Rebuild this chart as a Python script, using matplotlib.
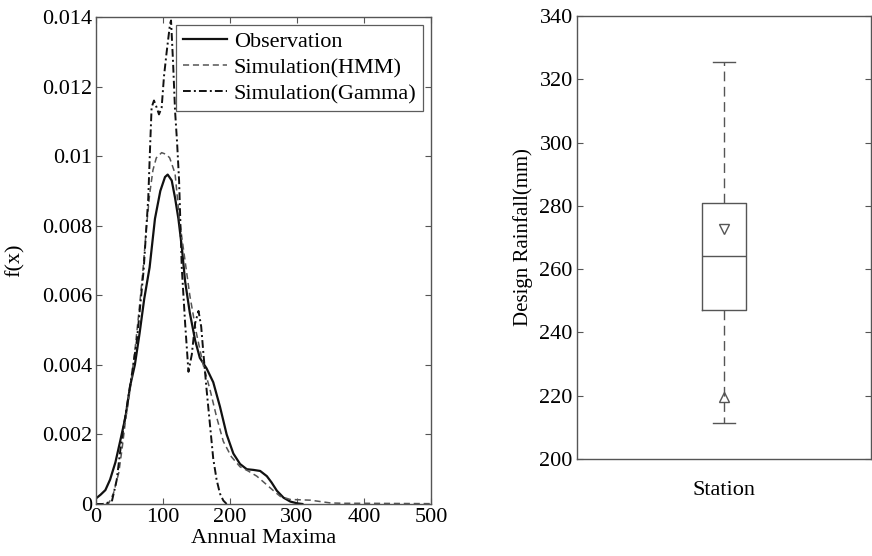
import matplotlib
matplotlib.use("Agg")
import matplotlib.pyplot as plt

# ---------------- data ----------------
x_obs = [0, 7, 14, 21, 29, 36, 44, 51, 58, 65, 72, 80, 88, 96, 103, 107, 113, 118,
         123, 128, 133, 140, 148, 155, 165, 175, 185, 195, 205, 215, 225, 235, 245,
         255, 262, 270, 280, 290, 300, 308]
y_obs = [0.16, 0.27, 0.4, 0.7, 1.2, 1.8, 2.5, 3.4, 4.0, 4.9, 5.9, 6.8, 8.2, 9.0,
         9.4, 9.47, 9.3, 8.8, 8.2, 7.4, 6.4, 5.5, 4.7, 4.2, 3.9, 3.5, 2.8, 2.0,
         1.45, 1.15, 1.0, 0.98, 0.95, 0.8, 0.62, 0.38, 0.18, 0.07, 0.02, 0.0]

x_hmm = [0, 10, 19, 26, 34, 39, 44, 51, 58, 65, 70, 75, 80, 85, 90, 98, 105, 110,
         118, 125, 130, 140, 150, 160, 170, 180, 190, 202, 215, 227, 240, 255, 265,
         275, 290, 305, 320, 335, 350, 370, 400, 450, 500]
y_hmm = [0, 0, 0.02, 0.3, 0.9, 1.6, 2.4, 3.3, 4.4, 5.7, 6.7, 7.9, 8.9, 9.6, 9.95,
         10.1, 10.05, 9.95, 9.5, 8.1, 7.4, 6.0, 4.9, 4.0, 3.3, 2.5, 1.8, 1.36, 1.07,
         0.95, 0.8, 0.55, 0.38, 0.22, 0.13, 0.12, 0.11, 0.07, 0.03, 0.02, 0.02,
         0.015, 0.01]

x_gam = [0, 10, 20, 24, 31, 36, 41, 46, 51, 61, 71, 78, 81, 83, 86.5, 90.5, 94, 98,
         101.5, 105.5, 110.5, 112, 115, 118, 121, 124, 128, 133, 138, 143, 148, 153,
         157, 160, 165, 170, 175, 180, 185, 190, 195]
y_gam = [0, 0, 0.05, 0.1, 0.7, 1.5, 2.2, 2.8, 3.4, 4.7, 6.7, 8.8, 10.4, 11.4, 11.6,
         11.4, 11.2, 11.4, 12.3, 13.0, 13.8, 13.9, 12.7, 11.3, 10.4, 9.3, 6.8, 5.2,
         3.8, 4.3, 5.2, 5.55, 5.1, 4.4, 3.3, 2.3, 1.3, 0.7, 0.3, 0.1, 0.0]

series_labels = ["Observation", "Simulation(HMM)", "Simulation(Gamma)"]

x_ticks_left = [0, 100, 200, 300, 400, 500]
y_ticks_left = [0, 0.002, 0.004, 0.006, 0.008, 0.01, 0.012, 0.014]
y_ticklabels_left = ["0", "0.002", "0.004", "0.006", "0.008", "0.01", "0.012", "0.014"]

# box plot statistics (design rainfall, mm)
box_med = 264.0
box_q1 = 247.0
box_q3 = 281.0
box_whislo = 211.5
box_whishi = 325.5
mark_upper = 272.7   # down triangle
mark_lower = 219.5   # up triangle
box_label = "Station"
y_ticks_right = [200, 220, 240, 260, 280, 300, 320, 340]

# ---------------- style ----------------
plt.rcParams['font.family'] = ['Liberation Serif', 'DejaVu Serif']
FS = 16
spine_col = "#555555"

fig = plt.figure(figsize=(8.72, 5.56), dpi=100)

# ---------------- left: density ----------------
ax1 = fig.add_axes([96/872, (556-504)/556, 335/872, 487/556])
scale = 1e-3
ax1.plot(x_obs, [v*scale for v in y_obs], color="#111111", lw=1.6, ls="-",
         label=series_labels[0])
ax1.plot(x_hmm, [v*scale for v in y_hmm], color="#555555", lw=1.1,
         dashes=(4, 2.5), label=series_labels[1])
ax1.plot(x_gam, [v*scale for v in y_gam], color="#111111", lw=1.4,
         dashes=(4, 1.6, 1, 1.6), label=series_labels[2])
ax1.set_xlim(0, 500)
ax1.set_ylim(0, 0.014)
ax1.set_xticks(x_ticks_left)
ax1.set_yticks(y_ticks_left)
ax1.set_yticklabels(y_ticklabels_left)
ax1.set_xlabel("Annual Maxima", fontsize=FS, labelpad=1)
ax1.set_ylabel("f(x)", fontsize=FS, labelpad=12)
leg = ax1.legend(loc="upper right", fontsize=FS, frameon=True, fancybox=False,
                 edgecolor="#333333", borderaxespad=0.35, handlelength=2.0,
                 handletextpad=0.3, labelspacing=0.25, borderpad=0.3)
leg.get_frame().set_linewidth(0.9)

# ---------------- right: box plot ----------------
ax2 = fig.add_axes([577/872, (556-459)/556, 294/872, 443/556])
stats = [{"med": box_med, "q1": box_q1, "q3": box_q3,
          "whislo": box_whislo, "whishi": box_whishi, "fliers": [],
          "label": box_label}]
ax2.bxp(stats, positions=[1], widths=0.15, capwidths=0.075, showfliers=False,
        boxprops=dict(color=spine_col, lw=1.0),
        medianprops=dict(color=spine_col, lw=1.0),
        whiskerprops=dict(color=spine_col, lw=1.0, dashes=(7, 4)),
        capprops=dict(color=spine_col, lw=1.0))
ax2.plot([1], [mark_upper], marker="v", ms=7, mfc="none", mec=spine_col, ls="none")
ax2.plot([1], [mark_lower], marker="^", ms=7, mfc="none", mec=spine_col, ls="none")
ax2.set_xlim(0.5, 1.5)
ax2.set_ylim(200, 340)
ax2.set_yticks(y_ticks_right)
ax2.set_ylabel("Design Rainfall(mm)", fontsize=15, labelpad=5)

for ax in (ax1, ax2):
    for s in ax.spines.values():
        s.set_color(spine_col)
        s.set_linewidth(1.0)
    ax.tick_params(direction="in", length=4.5, width=0.8, color=spine_col,
                   top=True, right=True, labelsize=FS, pad=3)

ax2.tick_params(axis="x", length=0, pad=16)

fig.savefig("out.png", dpi=100)
